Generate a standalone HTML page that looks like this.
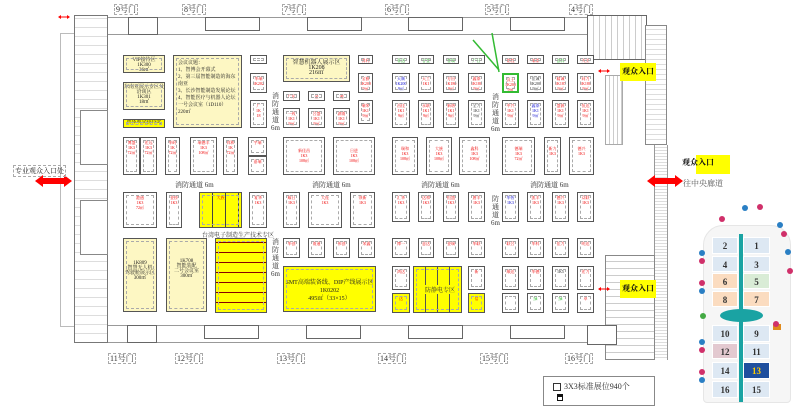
<!DOCTYPE html>
<html><head><meta charset="utf-8"><style>
*{margin:0;padding:0;box-sizing:border-box}
body{width:800px;height:404px;background:#fff;position:relative;overflow:hidden;font-family:"Liberation Serif","Noto Serif CJK SC",serif}
div{position:absolute}
.b{border:1px solid #555;background:#fff;color:#e00;font-size:4px;line-height:5px;text-align:center;padding-top:2px;overflow:hidden}
.b:after{content:"";position:absolute;left:2px;right:2px;top:2px;bottom:2px;border:1px dashed #aaa}
.y{background:#ff0}
.c{background:#fdf7c3}
.g{color:#0a0}.u{color:#00c}.k{color:#222}
.d{font-size:8px;color:#333;border:1px dashed #aaa;padding:0 1px;line-height:9px;white-space:nowrap}
.a{font-size:7px;color:#333;white-space:nowrap}
.v{font-size:7px;color:#333;width:9px;line-height:8px;text-align:center;background:#fff}
.h{background:#dde8f3;border:1px solid #fff;font-size:9px;font-weight:bold;color:#333;text-align:center;line-height:16px}
.pk{width:6px;height:6px;border-radius:50%;background:#d0306a}
.bl{width:6px;height:6px;border-radius:50%;background:#2a7fc4}
.e{white-space:nowrap;background:#ff0;font-size:8px;font-weight:bold;line-height:18px;color:#111;text-align:center}
</style></head><body>
<div style="left:60px;top:33px;width:15px;height:294px;border:1px solid #bbb;border-right:none"></div>
<div style="left:74px;top:15px;width:34px;height:328px;border:1px solid #777;background:repeating-linear-gradient(0deg,#fff 0 8px,#ddd 8px 9px)"></div>
<div style="left:80px;top:110px;width:28px;height:55px;background:#fff;border:1px solid #888"></div>
<div style="left:80px;top:200px;width:28px;height:55px;background:#fff;border:1px solid #888"></div>
<div style="left:108px;top:17px;width:497px;height:18px;border-top:1px solid #999;border-bottom:1px solid #999"></div>
<div style="left:108px;top:325px;width:497px;height:18px;border-top:1px solid #999;border-bottom:1px solid #999"></div>
<div style="left:128px;top:17px;width:30px;height:18px;border:1px solid #666"></div>
<div style="left:205px;top:17px;width:55px;height:14px;border:1px solid #666"></div>
<div style="left:307px;top:17px;width:55px;height:14px;border:1px solid #666"></div>
<div style="left:408px;top:17px;width:55px;height:14px;border:1px solid #666"></div>
<div style="left:510px;top:17px;width:55px;height:14px;border:1px solid #666"></div>
<div style="left:127px;top:325px;width:30px;height:18px;border:1px solid #666"></div>
<div style="left:204px;top:325px;width:55px;height:14px;border:1px solid #666"></div>
<div style="left:306px;top:325px;width:55px;height:14px;border:1px solid #666"></div>
<div style="left:408px;top:325px;width:55px;height:14px;border:1px solid #666"></div>
<div style="left:510px;top:325px;width:55px;height:14px;border:1px solid #666"></div>
<div style="left:587px;top:15px;width:60px;height:45px;border:1px solid #666;background:repeating-linear-gradient(90deg,#fff 0 5px,#ccc 5px 6px)"></div>
<div style="left:645px;top:25px;width:22px;height:120px;border:1px solid #888;background:repeating-linear-gradient(0deg,#fff 0 4px,#ddd 4px 5px)"></div>
<div style="left:605px;top:75px;width:18px;height:70px;border:1px solid #aaa;background:repeating-linear-gradient(90deg,#fff 0 3px,#ccc 3px 4px)"></div>
<div style="left:654px;top:145px;width:14px;height:215px;background:repeating-linear-gradient(0deg,#fff 0 2px,#ddd 2px 3px);border-left:1px solid #999;border-right:1px solid #999"></div>
<div style="left:605px;top:255px;width:50px;height:105px;border:1px solid #888;background:repeating-linear-gradient(0deg,#fff 0 6px,#ccc 6px 7px)"></div>
<div style="left:587px;top:325px;width:30px;height:20px;border:1px solid #666;background:#fff"></div>
<div class="d" style="left:114px;top:4px">9号门</div>
<div class="d" style="left:182px;top:4px">8号门</div>
<div class="d" style="left:282px;top:4px">7号门</div>
<div class="d" style="left:385px;top:4px">6号门</div>
<div class="d" style="left:485px;top:4px">5号门</div>
<div class="d" style="left:569px;top:4px">4号门</div>
<div class="d" style="left:108px;top:353px">11号门</div>
<div class="d" style="left:175px;top:353px">12号门</div>
<div class="d" style="left:277px;top:353px">13号门</div>
<div class="d" style="left:378px;top:353px">14号门</div>
<div class="d" style="left:480px;top:353px">15号门</div>
<div class="d" style="left:565px;top:353px">16号门</div>
<div class="b c k" style="left:123px;top:55px;width:42px;height:18px;font-size:5px">VIP接待区<br>1K300<br>36㎡</div>
<div class="b c k" style="left:123px;top:82px;width:42px;height:28px;font-size:5px">东南亚展示专区及<br>洽谈区<br>1K301<br>18㎡</div>
<div class="b y k" style="left:123px;top:119px;width:42px;height:9px;font-size:5px;padding:0">团体观众接待处</div>
<div class="b c k" style="left:173px;top:55px;width:69px;height:73px;font-size:5px;line-height:7px;text-align:left;padding:4px">会议议题：<br>1、智博会开幕式<br>2、第三届智能制造的海东南亚<br>3、长沙智能制造发展论坛<br>4、智能医疗与机器人论坛<br>一号会议室（1D110）<br>220㎡</div>
<div class="b c k" style="left:283px;top:55px;width:67px;height:27px;font-size:6px;padding-top:5px">智慧机器人展示区<br>1K208<br>216㎡</div>
<div class="b" style="left:250px;top:55px;width:17px;height:9px"></div>
<div class="b" style="left:358px;top:55px;width:15px;height:9px">得利</div>
<div class="b g" style="left:392px;top:55px;width:18px;height:9px">菲达</div>
<div class="b g" style="left:418px;top:55px;width:16px;height:9px">谷登</div>
<div class="b g" style="left:443px;top:55px;width:16px;height:9px">普瑞</div>
<div class="b g" style="left:468px;top:55px;width:17px;height:9px">广日</div>
<div class="b" style="left:502px;top:55px;width:17px;height:9px">铭程</div>
<div class="b" style="left:527px;top:55px;width:17px;height:9px">瑞泰</div>
<div class="b g" style="left:552px;top:55px;width:17px;height:9px">创科</div>
<div class="b" style="left:577px;top:55px;width:17px;height:9px">大业</div>
<div class="b" style="left:250px;top:73px;width:17px;height:20px">华瑞<br>1K202</div>
<div class="b" style="left:358px;top:73px;width:15px;height:20px">宝雅<br>1K200<br>9㎡</div>
<div class="b u" style="left:392px;top:73px;width:18px;height:20px">天顺<br>1K200<br>9㎡</div>
<div class="b" style="left:418px;top:73px;width:16px;height:20px">天工<br>1K1</div>
<div class="b" style="left:443px;top:73px;width:16px;height:20px">方田<br>1K180<br>9㎡</div>
<div class="b" style="left:468px;top:73px;width:17px;height:20px">鑫泰<br>1K180<br>9㎡</div>
<div class="b" style="left:502px;top:73px;width:17px;height:20px;border:2px solid #3b3">汉王<br>1K200<br>9㎡</div>
<div class="b k" style="left:527px;top:73px;width:17px;height:20px">佳诚<br>1K200<br>9㎡</div>
<div class="b" style="left:552px;top:73px;width:17px;height:20px">精诚<br>1K187<br>9㎡</div>
<div class="b" style="left:577px;top:73px;width:17px;height:20px">同力<br>1K180<br>9㎡</div>
<div class="b" style="left:283px;top:91px;width:17px;height:10px">广东</div>
<div class="b" style="left:308px;top:91px;width:17px;height:10px">金</div>
<div class="b" style="left:333px;top:91px;width:17px;height:10px">湘</div>
<div class="b" style="left:250px;top:100px;width:17px;height:28px">广<br>1K<br>18</div>
<div class="b" style="left:283px;top:108px;width:17px;height:20px">一致<br>1K1<br>9㎡</div>
<div class="b" style="left:308px;top:108px;width:17px;height:20px">合盛<br>1K1<br>9㎡</div>
<div class="b" style="left:333px;top:108px;width:17px;height:20px">湖南<br>1K1<br>9㎡</div>
<div class="b" style="left:358px;top:100px;width:15px;height:24px">瑞荣<br>1K1<br>9㎡</div>
<div class="b" style="left:392px;top:100px;width:18px;height:28px">昌佳<br>1K1<br>9㎡</div>
<div class="b" style="left:418px;top:100px;width:16px;height:28px">永联<br>1K1<br>9㎡</div>
<div class="b" style="left:443px;top:100px;width:16px;height:28px">新谐<br>1K1<br>9㎡</div>
<div class="b k" style="left:468px;top:100px;width:17px;height:28px">全力<br>1K1<br>9㎡</div>
<div class="b" style="left:502px;top:100px;width:17px;height:28px">中兴<br>1K1<br>9㎡</div>
<div class="b u" style="left:527px;top:100px;width:17px;height:28px">鑫泰<br>1K1<br>9㎡</div>
<div class="b" style="left:552px;top:100px;width:17px;height:28px">盛源<br>1K1<br>9㎡</div>
<div class="b" style="left:577px;top:100px;width:17px;height:28px">恒达<br>1K1<br>9㎡</div>
<div class="b" style="left:123px;top:137px;width:17px;height:38px">博盛<br>1K3<br>72㎡</div>
<div class="b" style="left:140px;top:137px;width:17px;height:38px">宏远<br>1K3<br>72㎡</div>
<div class="b" style="left:165px;top:137px;width:15px;height:38px">华时<br>1K<br>72㎡</div>
<div class="b" style="left:190px;top:137px;width:27px;height:38px">瑞德丰<br>1K3<br>108㎡</div>
<div class="b" style="left:223px;top:137px;width:15px;height:38px">邦和<br>1K<br>72㎡</div>
<div class="b" style="left:248px;top:137px;width:19px;height:19px">宇瑞</div>
<div class="b" style="left:248px;top:156px;width:19px;height:19px">嘉瑞</div>
<div class="b" style="left:283px;top:137px;width:42px;height:38px;padding-top:10px">新佳昌<br>1K3<br>108㎡</div>
<div class="b" style="left:333px;top:137px;width:42px;height:38px;padding-top:10px">日进<br>1K3<br>108㎡</div>
<div class="b" style="left:392px;top:137px;width:26px;height:38px;padding-top:8px">瑞和<br>1K3<br>108㎡</div>
<div class="b" style="left:426px;top:137px;width:26px;height:38px;padding-top:8px">大族<br>1K3<br>108㎡</div>
<div class="b" style="left:459px;top:137px;width:31px;height:38px;padding-top:8px">鑫科<br>1K3<br>108㎡</div>
<div class="b" style="left:502px;top:137px;width:33px;height:38px;padding-top:8px">德瑞<br>1K3<br>72㎡</div>
<div class="b" style="left:544px;top:137px;width:17px;height:38px;padding-top:8px">新力<br>1K3</div>
<div class="b" style="left:569px;top:137px;width:25px;height:38px;padding-top:8px">德兴<br>1K3</div>
<div class="a" style="left:175px;top:180px">消防通道 6m</div>
<div class="a" style="left:312px;top:180px">消防通道 6m</div>
<div class="a" style="left:421px;top:180px">消防通道 6m</div>
<div class="a" style="left:530px;top:180px">消防通道 6m</div>
<div class="v" style="left:271px;top:92px">消防通道6m</div>
<div class="v" style="left:491px;top:93px">消防通道6m</div>
<div class="v" style="left:271px;top:238px">消防通道6m</div>
<div class="v" style="left:491px;top:195px">防通道6m</div>
<div class="b" style="left:123px;top:192px;width:34px;height:36px">港通<br>1K3<br>72㎡</div>
<div class="b" style="left:166px;top:192px;width:16px;height:36px">金桥<br>1K3</div>
<div class="b y" style="left:199px;top:192px;width:43px;height:36px;background:repeating-linear-gradient(90deg,#ff0 0 12px,#444 12px 13px)">大族</div>
<div class="b" style="left:249px;top:192px;width:18px;height:36px">复华<br>1K3</div>
<div class="b" style="left:283px;top:192px;width:17px;height:36px">耀日<br>1K3</div>
<div class="b" style="left:308px;top:192px;width:34px;height:36px">大连<br>1K3</div>
<div class="b" style="left:350px;top:192px;width:25px;height:36px">领新<br>1K3</div>
<div class="b" style="left:392px;top:192px;width:18px;height:30px">汇华<br>1K3</div>
<div class="b" style="left:418px;top:192px;width:16px;height:30px">达和<br>1K3</div>
<div class="b" style="left:443px;top:192px;width:16px;height:30px">恒盛<br>1K3</div>
<div class="b" style="left:468px;top:192px;width:17px;height:30px">唐丰<br>1K3</div>
<div class="b u" style="left:502px;top:192px;width:17px;height:30px">华智<br>1K3</div>
<div class="b" style="left:527px;top:192px;width:17px;height:30px">凯丰<br>1K3</div>
<div class="b" style="left:552px;top:192px;width:17px;height:30px">德兴<br>1K3</div>
<div class="b" style="left:577px;top:192px;width:17px;height:30px">众联<br>1K3</div>
<div class="a" style="left:202px;top:230px;font-size:6px">台湾电子制造生产技术专区</div>
<div class="b c k" style="left:123px;top:238px;width:34px;height:74px;padding-top:22px;font-size:5px">1K809<br>智慧无人机<br>驾驶舱展示区<br>300㎡</div>
<div class="b c k" style="left:166px;top:238px;width:41px;height:74px;padding-top:20px;font-size:5px">1K708<br>智能装配<br>二号会议室<br>300㎡</div>
<div class="b y" style="left:215px;top:238px;width:52px;height:75px;background:repeating-linear-gradient(0deg,#ff0 0 9px,#800 9px 10px)"></div>
<div class="b" style="left:283px;top:238px;width:17px;height:20px">华创</div>
<div class="b" style="left:308px;top:238px;width:17px;height:20px">南通</div>
<div class="b" style="left:333px;top:238px;width:17px;height:20px">伟创</div>
<div class="b" style="left:358px;top:238px;width:17px;height:20px">荣鑫</div>
<div class="b" style="left:392px;top:238px;width:18px;height:20px">博一</div>
<div class="b" style="left:418px;top:238px;width:16px;height:20px">意达</div>
<div class="b" style="left:443px;top:238px;width:16px;height:20px">金瑞</div>
<div class="b" style="left:468px;top:238px;width:17px;height:20px">华联</div>
<div class="b" style="left:502px;top:238px;width:17px;height:20px">联合</div>
<div class="b" style="left:527px;top:238px;width:17px;height:20px">华科</div>
<div class="b" style="left:552px;top:238px;width:17px;height:20px">佳力</div>
<div class="b" style="left:577px;top:238px;width:17px;height:20px">明达</div>
<div class="b y k" style="left:283px;top:266px;width:93px;height:46px;padding-top:12px;font-size:6px;line-height:8px">SMT高端装备线、DIP产线展示区<br>1K0202<br>495㎡（33×15）</div>
<div class="b y" style="left:413px;top:266px;width:49px;height:47px;background:repeating-linear-gradient(90deg,#ff0 0 11px,#555 11px 12px)"></div>
<div class="a" style="left:425px;top:285px;font-size:6px;background:#ff0">防静电专区</div>
<div class="b" style="left:392px;top:266px;width:18px;height:24px">鸿达</div>
<div class="b y" style="left:392px;top:293px;width:18px;height:20px">达</div>
<div class="b" style="left:468px;top:266px;width:17px;height:24px">新</div>
<div class="b y" style="left:468px;top:293px;width:17px;height:20px">信</div>
<div class="b" style="left:502px;top:266px;width:17px;height:24px">顺达</div>
<div class="b" style="left:527px;top:266px;width:17px;height:24px">华德</div>
<div class="b k" style="left:552px;top:266px;width:17px;height:24px">1K5</div>
<div class="b" style="left:577px;top:266px;width:17px;height:24px">宏力</div>
<div class="b" style="left:502px;top:293px;width:17px;height:20px"></div>
<div class="b g" style="left:527px;top:293px;width:17px;height:20px">绿</div>
<div class="b g" style="left:552px;top:293px;width:17px;height:20px">绿</div>
<div class="b" style="left:577px;top:293px;width:17px;height:20px">卓</div>
<svg style="position:absolute;left:0;top:0" width="800" height="404"><g stroke="#3b3" stroke-width="1.5" fill="none"><line x1="473" y1="40" x2="499" y2="70"/><line x1="492" y1="33" x2="499" y2="72"/></g>
<g fill="#f00"><polygon points="35,181 43,175 43,178 64,178 64,175 72,181 64,187 64,184 43,184 43,187"/><polygon points="647,181 655,175 655,178 675,178 675,175 683,181 675,187 675,184 655,184 655,187"/><polygon points="58,17 61,15 61,16.5 67,16.5 67,15 70,17 67,19 67,17.5 61,17.5 61,19"/><polygon points="598,71 601,69 601,70.5 607,70.5 607,69 610,71 607,73 607,71.5 601,71.5 601,73"/><polygon points="598,289 601,287 601,288.5 607,288.5 607,287 610,289 607,291 607,289.5 601,289.5 601,291"/></g></svg>
<div style="left:13px;top:165px;font-size:7px;border:1px dashed #aaa;padding:0 1px;color:#222;white-space:nowrap">专业观众入口处</div>
<div class="e" style="left:620px;top:63px;width:36px;height:18px">观众入口</div>
<div style="left:696px;top:155px;width:34px;height:19px;background:#ff0"></div>
<div style="left:682px;top:157px;font-size:8px;font-weight:bold;color:#111;white-space:nowrap">观众入口</div>
<div style="left:683px;top:178px;font-size:8px;color:#555;white-space:nowrap">往中央廊道</div>
<div class="e" style="left:620px;top:280px;width:36px;height:18px">观众入口</div>
<div style="left:543px;top:376px;width:112px;height:30px;border:1px solid #888"></div>
<div style="left:553px;top:383px;width:8px;height:8px;border:1px solid #333"></div>
<div style="left:564px;top:381px;font-size:8px;color:#333;white-space:nowrap">3X3标准展位940个</div>
<div style="left:557px;top:394px;width:6px;height:7px;border:1px solid #111;border-top:3px solid #111"></div>
<div style="left:703px;top:225px;width:88px;height:178px;border:1px solid #e6e6e6;border-radius:20px 20px 4px 4px;background:#f6f6f6"></div>
<div class="h" style="left:712px;top:237px;width:26px;height:17px">2</div>
<div class="h" style="left:743px;top:237px;width:27px;height:17px">1</div>
<div class="h" style="left:712px;top:256px;width:26px;height:16px">4</div>
<div class="h" style="left:743px;top:256px;width:27px;height:16px">3</div>
<div class="h" style="left:712px;top:273px;width:26px;height:16px;background:#fbdcc0">6</div>
<div class="h" style="left:743px;top:273px;width:27px;height:16px;background:#d9ecd6">5</div>
<div class="h" style="left:712px;top:291px;width:26px;height:16px;background:#fbdcc0">8</div>
<div class="h" style="left:743px;top:291px;width:27px;height:16px;background:#fbdcc0">7</div>
<div class="h" style="left:712px;top:325px;width:26px;height:17px">10</div>
<div class="h" style="left:743px;top:325px;width:27px;height:17px">9</div>
<div class="h" style="left:712px;top:343px;width:26px;height:16px;background:#e3c9d0">12</div>
<div class="h" style="left:743px;top:343px;width:27px;height:16px">11</div>
<div class="h" style="left:712px;top:362px;width:26px;height:17px">14</div>
<div class="h" style="left:743px;top:362px;width:27px;height:17px;background:#1f4f9e;color:#fc0">13</div>
<div class="h" style="left:712px;top:381px;width:26px;height:17px">16</div>
<div class="h" style="left:743px;top:381px;width:27px;height:17px">15</div>
<div style="left:720px;top:309px;width:43px;height:13px;border-radius:50%;background:#1aa3a3"></div>
<div style="left:739px;top:234px;width:4px;height:168px;background:#1aa3a3"></div>
<div style="left:773px;top:324px;width:8px;height:6px;background:#e08a1c"></div>
<div class="bl" style="left:742px;top:205px"></div><div class="pk" style="left:757px;top:204px"></div>
<div class="pk" style="left:719px;top:216px"></div><div class="bl" style="left:777px;top:222px"></div>
<div class="pk" style="left:781px;top:231px"></div><div class="bl" style="left:699px;top:250px"></div>
<div class="pk" style="left:699px;top:258px"></div><div class="bl" style="left:785px;top:249px"></div>
<div class="pk" style="left:787px;top:268px"></div><div class="pk" style="left:699px;top:280px"></div>
<div class="bl" style="left:699px;top:288px"></div><div class="pk" style="left:773px;top:321px"></div>
<div class="bl" style="left:699px;top:339px"></div><div class="pk" style="left:699px;top:347px"></div>
<div class="pk" style="left:699px;top:369px"></div><div class="bl" style="left:699px;top:377px"></div>
<div style="left:700px;top:313px;width:6px;height:6px;border-radius:50%;background:#4a4"></div>
</body></html>
